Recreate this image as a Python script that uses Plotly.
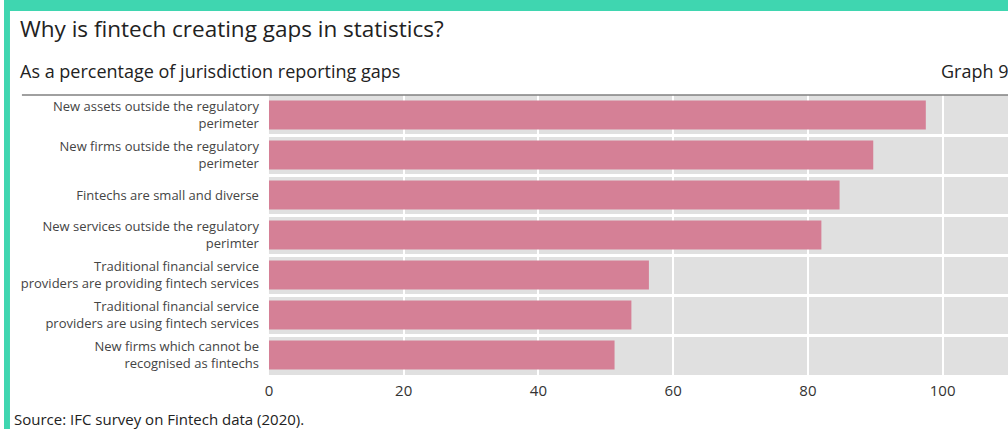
import plotly.graph_objects as go

# Reasons given for fintech-related statistical gaps (% of jurisdictions reporting gaps)
categories = [
    "New assets outside the regulatory<br>perimeter",
    "New firms outside the regulatory<br>perimeter",
    "Fintechs are small and diverse",
    "New services outside the regulatory<br>perimter",
    "Traditional financial service<br>providers are providing fintech services",
    "Traditional financial service<br>providers are using fintech services",
    "New firms which cannot be<br>recognised as fintechs",
]
values = [97.5, 89.7, 84.7, 82.0, 56.4, 53.8, 51.3]
x_ticks = [0, 20, 40, 60, 80, 100]

W, H = 1008, 429
FONT = "Open Sans, Noto Sans, sans-serif"
BAR = "#d58096"
TEAL = "#3fd6b0"

fig = go.Figure(
    go.Bar(
        x=values,
        y=categories,
        orientation="h",
        marker=dict(color=BAR, line=dict(width=0)),
        width=0.73,
        hoverinfo="x+y",
    )
)

fig.update_layout(
    width=W,
    height=H,
    margin=dict(l=0, r=0, t=0, b=0),
    paper_bgcolor="white",
    plot_bgcolor="#e0e0e0",
    showlegend=False,
    bargap=0.27,
    font=dict(family=FONT, color="#333333"),
    xaxis=dict(
        domain=[266 / W, 1],
        range=[0, 109.7],
        tickvals=x_ticks,
        ticktext=[str(v) for v in x_ticks],
        showgrid=True,
        gridcolor="white",
        gridwidth=2,
        zeroline=False,
        showline=False,
        ticks="",
        ticklabelstandoff=5,
        tickfont=dict(size=15, color="#333333"),
        fixedrange=True,
    ),
    yaxis=dict(
        domain=[1 - 375 / H, 1 - 95 / H],
        categoryorder="array",
        categoryarray=categories[::-1],
        showgrid=True,
        gridcolor="white",
        gridwidth=3,
        tickson="boundaries",
        ticks="",
        zeroline=False,
        showline=False,
        ticklabelstandoff=9,
        tickfont=dict(size=13, color="#444444"),
        fixedrange=True,
    ),
    shapes=[
        # frame bands
        dict(type="rect", xref="paper", yref="paper", x0=0, x1=1, y0=1 - 11 / H, y1=1,
             fillcolor=TEAL, line=dict(width=0), layer="above"),
        dict(type="rect", xref="paper", yref="paper", x0=0, x1=6 / W, y0=0, y1=1,
             fillcolor=TEAL, line=dict(width=0), layer="above"),
        # rule above the plot
        dict(type="line", xref="paper", yref="paper", x0=18 / W, x1=1,
             y0=1 - 95 / H, y1=1 - 95 / H, line=dict(color="#808080", width=1.5)),
    ],
    annotations=[
        dict(text="Why is fintech creating gaps in statistics?", xref="paper", yref="paper",
             x=14 / W, y=1 - 28 / H, xanchor="left", yanchor="middle", showarrow=False,
             font=dict(size=22.5, color="#222222")),
        dict(text="As a percentage of jurisdiction reporting gaps", xref="paper", yref="paper",
             x=14 / W, y=1 - 71 / H, xanchor="left", yanchor="middle", showarrow=False,
             font=dict(size=18, color="#222222")),
        dict(text="Graph 9", xref="paper", yref="paper",
             x=939 / W, y=1 - 71 / H, xanchor="left", yanchor="middle", showarrow=False,
             font=dict(size=18, color="#222222")),
        dict(text="Source: IFC survey on Fintech data (2020).", xref="paper", yref="paper",
             x=8 / W, y=1 - 419 / H, xanchor="left", yanchor="middle", showarrow=False,
             font=dict(size=15, color="#222222")),
    ],
)

fig.write_html("out.html")
